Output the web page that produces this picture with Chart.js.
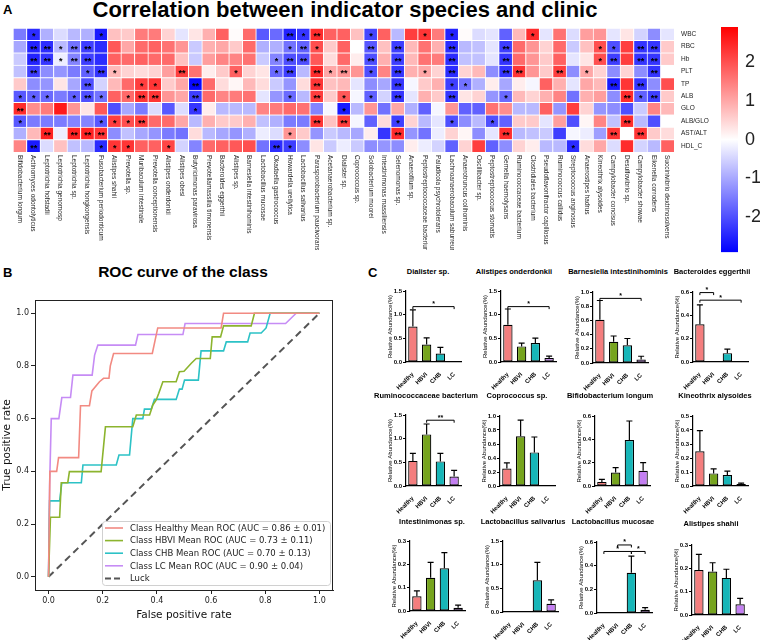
<!DOCTYPE html>
<html>
<head>
<meta charset="utf-8">
<script src="https://cdn.jsdelivr.net/npm/chart.js@4.4.1/dist/chart.umd.min.js"></script>
<style>
  html, body { margin: 0; padding: 0; background: #fff; }
  #page { position: relative; width: 760px; height: 640px; overflow: hidden; font-family: Arial, "Liberation Sans", sans-serif; color: #000; }
  #page canvas { position: absolute; }
  .txt { position: absolute; white-space: nowrap; line-height: 1; transform: translate(-50%, -50%); }
  .panel { position: absolute; font-weight: bold; font-size: 13px; line-height: 1; }
</style>
</head>
<body>
<div id="page">
  <div class="panel" style="left:3px;top:3px">A</div>
  <div class="txt" style="left:345px;top:10px;font-size:22px;font-weight:bold">Correlation between indicator species and clinic</div>
  <canvas id="heat" width="720" height="250" style="left:0;top:0"></canvas>
  <canvas id="cbar" width="60" height="270" style="left:700px;top:0"></canvas>
  <div class="panel" style="left:3px;top:266px">B</div>
  <div class="txt" style="left:183px;top:272px;font-size:15.5px;font-weight:bold">ROC curve of the class</div>
  <canvas id="roc" width="340" height="340" style="left:0;top:290px"></canvas>
  <div class="panel" style="left:368px;top:266px">C</div>
</div>
<script>
// ---------- Panel A data ----------
const species = [
  'Bifidobacterium longum', 'Actinomyces odontolyticus', 'Leptotrichia hofstadii', 'Leptotrichia genomosp',
  'Leptotrichia sp.', 'Leptotrichia hongkongensis', 'Fusobacterium periodonticum', 'Alistipes shahii',
  'Prevotella sp.', 'Muribaculum intestinale', 'Prevotella conceptionensis', 'Alistipes onderdonkii',
  'Alistipes obesi', 'Butyricimonas paravirosa', 'Prevotellamassilia timonensis', 'Bacteroides eggerthii',
  'Alistipes sp.', 'Barnesiella intestinihominis', 'Lactobacillus mucosae', 'Okadaella gastrococcus',
  'Howardella ureilytica', 'Lactobacillus salivarius', 'Parasporobacterium paucivorans', 'Acetanaerobacterium sp.',
  'Dialister sp.', 'Coprococcus sp.', 'Solobacterium moorei', 'Intestinimonas massiliensis',
  'Selenomonas sp.', 'Anaerofilum sp.', 'Peptostreptococcaceae bacterium', 'Paludicola psychrotolerans',
  'Lachnoanaerobaculum saburreum', 'Anaerotruncus colihominis', 'Oscillibacter sp.', 'Peptostreptococcus stomatis',
  'Gemella haemolysans', 'Ruminococcaceae bacterium', 'Clostridiales bacterium', 'Pseudoflavonifractor capillosus',
  'Ruminococcus callidus', 'Streptococcus anginosus', 'Anaerostipes hadrus', 'Kineothrix alysoides',
  'Campylobacter concisus', 'Desulfovibrio sp.', 'Campylobacter showae', 'Eikenella corrodens',
  'Succinivibrio dextrinosolvens'
];
const clinic = ['WBC', 'RBC', 'Hb', 'PLT', 'TP', 'ALB', 'GLO', 'ALB/GLO', 'AST/ALT', 'HDL_C'];

const rWBC = [-1.5,-2.4,-0.9,-0.4,-0.8,-0.9,-2.6,0.7,0.6,1.5,1.5,0.5,-0.3,0.3,0.9,1.8,0.05,1.7,
  -1.9,-1.7,-2.5,-2.3,2.4,1.8,1.8,0.7,-2.1,1.8,-0.8,2.2,2.3,1.5,-2.5,0.05,-0.4,-0.3,-1.8,
  0.8,2.4,-0.3,1.6,-0.4,1.1,1.2,-0.3,0.3,-0.5,-1.3,-0.3];
const rRBC = [-1.0,-2.5,-2.4,-0.8,-1.6,-2.2,-2.4,1.9,1.0,1.7,1.8,1.6,1.2,-0.6,0.9,1.0,0.6,1.7,
  -0.9,-0.9,-1.6,-1.8,2.0,0.6,1.8,0.0,-1.9,0.7,-2.2,0.8,1.6,0.9,-2.4,-0.8,-0.7,-0.3,-2.2,
  1.7,1.2,0.5,1.7,-0.6,0.7,2.0,-2.0,2.2,-2.3,-2.3,0.6];
const rHb = [-0.6,-2.5,-2.3,-0.2,-1.4,-2.2,-2.4,1.8,1.7,1.8,1.7,1.7,0.7,-0.6,1.1,1.4,1.4,1.6,
  -0.6,-1.4,-2.0,-2.0,1.9,0.4,1.7,0.2,-2.0,0.9,-2.2,0.8,1.6,1.5,-2.4,-0.7,-0.7,-0.3,-2.3,
  1.7,1.2,0.6,1.8,-0.3,0.3,2.0,-2.2,2.2,-2.3,-2.3,0.6];
const rPLT = [-0.7,-2.2,-1.3,-1.2,-1.5,-1.8,-2.3,0.8,0.5,0.4,0.5,1.1,2.2,1.6,0.2,0.6,1.8,0.5,
  0.3,-1.7,-2.2,-0.8,2.4,1.0,1.2,1.2,-2.0,1.4,-2.3,0.9,1.0,0.5,-2.4,0.5,0.8,-1.3,-2.3,
  2.3,1.2,0.6,2.2,-1.3,1.0,0.5,-1.3,0.5,-1.3,-2.3,0.0];
const rTP = [0.6,-1.3,-1.2,0.3,-1.0,-2.0,-0.5,0.8,1.7,2.2,2.3,0.6,1.0,-2.8,1.7,0.4,0.1,0.8,
  0.4,-0.6,-1.2,0.4,2.3,0.7,0.8,-0.3,-1.3,-1.0,-2.3,-0.1,0.6,0.9,-2.2,-1.6,-0.9,0.2,-1.0,
  0.2,-0.1,1.8,0.9,-0.3,1.0,0.8,-2.6,2.3,-2.3,-1.3,2.0];
const rALB = [-1.9,-1.8,-1.7,-1.5,-1.8,-2.0,-1.6,1.8,1.7,2.3,2.3,1.2,1.0,-2.2,1.7,1.4,1.5,1.6,
  -0.3,-1.2,-1.7,-0.8,2.2,0.6,1.9,-0.1,-1.8,-0.5,-2.3,-0.3,0.9,0.6,-2.3,0.3,0.5,-1.2,-1.7,
  0.8,0.5,0.9,1.4,-1.6,0.9,1.1,-1.3,2.4,-1.8,-2.2,0.6];
const rGLO = [2.4,1.3,1.5,2.6,1.2,0.3,1.9,-2.0,-1.0,-1.5,-0.4,-1.9,-0.4,-2.3,0.2,-0.8,-0.8,-0.8,
  1.4,1.5,1.7,1.6,-1.4,-0.1,-2.6,-0.8,1.2,-1.6,1.0,-0.9,-1.8,-0.1,1.2,-1.8,-1.8,1.6,1.3,
  -0.8,-0.8,1.8,-1.2,2.2,0.5,-1.2,-1.3,-2.0,-0.6,1.4,0.8];
const rALBGLO = [-1.9,-1.5,-1.5,-1.5,-1.4,-1.4,-1.9,2.2,2.0,2.2,1.7,1.7,1.0,-0.8,0.9,0.6,0.6,0.9,
  -0.7,-0.9,-1.5,-1.5,2.3,0.7,2.2,-0.1,-1.8,0.4,-2.2,0.5,-0.8,-0.3,-2.0,-1.3,-0.8,-2.0,-1.8,
  0.6,0.6,-0.3,1.1,-2.0,0.1,1.4,-0.7,2.4,-0.8,-2.0,0.0];
const rASTALT = [-0.9,0.8,2.5,-0.2,2.5,2.5,2.3,-1.3,-0.7,-1.0,-1.2,-1.5,-1.6,0.4,-0.8,-1.0,-1.2,-0.9,
  -0.2,-0.4,1.2,0.6,-1.2,-0.6,-0.8,-1.0,0.2,-2.3,2.4,-1.2,-1.6,-0.2,0.5,0.1,-1.3,-0.3,2.4,
  -0.8,-0.7,-0.6,-2.2,-0.1,-0.2,-1.1,2.3,0.0,2.3,0.6,0.4];
const rHDL = [1.4,-2.6,-0.4,0.7,-0.7,-0.8,-2.4,2.3,2.3,1.8,1.8,2.1,-0.5,-1.4,1.7,1.8,1.9,2.0,
  -1.6,-2.4,-2.2,-1.3,0.3,-0.6,-0.2,-0.6,-1.3,-1.2,-1.3,0.2,-0.2,-0.5,-1.8,0.5,2.2,-1.8,-1.3,
  0.5,0.2,-0.8,-0.8,-2.4,0.4,1.0,-0.4,2.4,-0.5,-0.8,1.8];

// significance: number of stars per cell
const sWBC    = '010000100000000000|0021200010001010000|010000000000';
const sRBC    = '022122000000000000|0012100020200020002|000000110220';
const sHb     = '022122000000000000|0122000020200020002|000000120220';
const sPLT    = '020001210000200010|0120212010201020002|200201000020';
const sTP     = '000002000110020000|0000200000200011000|000000020200';
const sALB    = '111012101220020000|0010201010200020001|000000002120';
const sGLO    = '200000000000010000|0000001000000000000|000000000000';
const sALBGLO = '100000111200000000|0000202000100010010|000000002000';
const sASTALT = '002022200000000000|0010000000200000002|000000020200';
const sHDL    = '020000111001000000|0210000000000000000|000010000000';

const heatVals = [rWBC, rRBC, rHb, rPLT, rTP, rALB, rGLO, rALBGLO, rASTALT, rHDL];
const heatStars = [sWBC, sRBC, sHb, sPLT, sTP, sALB, sGLO, sALBGLO, sASTALT, sHDL].map(s => s.replace(/\|/g, ''));
const colorTicks = [-2, -1, 0, 1, 2];
const colorRange = 2.9;

// ---------- Panel B data ----------
const rocHealthy = [[0,0],[0.005,0.40],[0.03,0.40],[0.037,0.452],[0.111,0.452],[0.118,0.649],[0.151,0.649],
  [0.16,0.705],[0.188,0.74],[0.203,0.753],[0.223,0.753],[0.228,0.80],[0.24,0.847],[0.383,0.847],
  [0.403,0.944],[0.637,0.944],[0.646,1.0],[1,1]];
const rocHBVI = [[0,0],[0.007,0.226],[0.041,0.226],[0.047,0.357],[0.071,0.357],[0.077,0.399],[0.194,0.399],
  [0.21,0.569],[0.311,0.569],[0.324,0.614],[0.373,0.614],[0.385,0.652],[0.397,0.67],[0.407,0.696],
  [0.422,0.74],[0.471,0.74],[0.483,0.778],[0.50,0.78],[0.527,0.81],[0.545,0.828],[0.597,0.828],
  [0.604,0.91],[0.635,0.91],[0.646,0.952],[0.748,0.952],[0.76,1.0],[1,1]];
const rocCHB = [[0,0],[0.004,0.288],[0.041,0.288],[0.049,0.357],[0.121,0.357],[0.127,0.424],[0.25,0.424],
  [0.26,0.462],[0.299,0.462],[0.311,0.60],[0.348,0.60],[0.354,0.636],[0.379,0.636],[0.391,0.673],
  [0.471,0.673],[0.483,0.712],[0.493,0.712],[0.502,0.746],[0.553,0.746],[0.563,0.857],[0.646,0.857],
  [0.656,0.891],[0.735,0.891],[0.744,0.925],[0.785,0.925],[0.803,0.944],[0.818,1.0],[1,1]];
const rocLC = [[0,0],[0.004,0.35],[0.01,0.60],[0.038,0.60],[0.049,0.68],[0.081,0.68],[0.09,0.765],
  [0.161,0.765],[0.17,0.841],[0.182,0.879],[0.321,0.879],[0.33,0.919],[0.496,0.919],[0.504,0.961],
  [0.875,0.961],[0.914,1.0],[1,1]];
const rocLuck = [[0,0],[1,1]];
const rocNames = ['Class Healthy Mean ROC (AUC = 0.86 \u00b1 0.01)', 'Class HBVI Mean ROC (AUC = 0.73 \u00b1 0.11)',
  'Class CHB Mean ROC (AUC = 0.70 \u00b1 0.13)', 'Class LC Mean ROC (AUC = 0.90 \u00b1 0.04)', 'Luck'];
const rocTicks = [0, 0.2, 0.4, 0.6, 0.8, 1.0];

// ---------- Panel C data ----------
const groups = ['Healthy', 'HBVI', 'CHB', 'LC'];
const cTitles = ['Dialister sp.', 'Alistipes onderdonkii', 'Barnesiella intestinihominis', 'Bacteroides eggerthii',
  'Ruminococcaceae bacterium', 'Coprococcus sp.', 'Bifidobacterium longum', 'Kineothrix alysoides',
  'Intestinimonas sp.', 'Lactobacillus salivarius', 'Lactobacillus mucosae', 'Alistipes shahii'];
const cMeans = [
  [0.75, 0.37, 0.18, 0.003], [0.785, 0.33, 0.40, 0.085], [0.61, 0.30, 0.25, 0.05], [0.323, 0.005, 0.076, 0.001],
  [0.53, 1.09, 0.52, 0.20], [0.25, 0.71, 0.48, 0.015], [0.035, 0.115, 0.394, 0.13], [0.248, 0.09, 0.078, 0.014],
  [0.063, 0.142, 0.183, 0.014], [0.008, 0.005, 0.67, 0.173], [0.003, 0.003, 0.34, 0.028], [0.193, 0.186, 0.159, 0.046]
];
const cErrTop = [
  [1.10, 0.51, 0.31, 0.005], [1.12, 0.40, 0.505, 0.126], [0.88, 0.38, 0.345, 0.095], [0.49, 0.008, 0.11, 0.001],
  [0.69, 1.31, 0.69, 0.33], [0.33, 0.94, 0.70, 0.022], [0.057, 0.158, 0.557, 0.20], [0.396, 0.123, 0.106, 0.021],
  [0.086, 0.208, 0.25, 0.025], [0.012, 0.006, 1.05, 0.256], [0.004, 0.004, 0.48, 0.045], [0.26, 0.224, 0.196, 0.071]
];
const cMax = [1.5, 1.5, 1.0, 0.6, 1.5, 1.0, 0.6, 0.5, 0.3, 1.5, 0.6, 0.3];
const cStep = [0.5, 0.5, 0.2, 0.2, 0.5, 0.2, 0.2, 0.1, 0.1, 0.5, 0.2, 0.1];
// [from group, to group, height, label]
const cSig = [
  [[0, 3, 1.17, '*']], [[0, 3, 1.17, '*']], [[0, 3, 0.91, '*']], [[0, 1, 0.595, '*'], [0, 3, 0.53, '*']],
  [[1, 3, 1.39, '**']], [], [], [],
  [], [], [[1, 2, 0.575, '*'], [0, 2, 0.52, '*'], [2, 3, 0.52, '*']], []
];

// ---------- styles / layout ----------
const groupColors = ['#f47e7e', '#76a41e', '#17b6b8', '#c47ff2'];
const rocColors = ['#f28a82', '#8cb42e', '#2cc2c6', '#c68cf5', '#555555'];
const cAxisX = [406, 501, 593, 693, 406, 500, 595, 693, 410, 503, 597, 692];
const cTopY  = [291, 291, 292, 292, 415, 416, 416, 416, 541, 541, 542, 545];
const cZeroY = [362, 362, 363, 362, 486, 486, 486, 486, 611, 612, 613, 615];
const cTitleX = [428, 514, 618, 712, 426, 517, 610, 715, 432, 523, 613, 711];
const cTitleY = [272, 272, 272, 272, 396, 396, 396, 396, 522, 522, 522, 524];

Chart.defaults.font.family = 'Arial, "Liberation Sans", sans-serif';
Chart.defaults.color = '#000';
Chart.defaults.animation = false;
Chart.defaults.events = [];

function heatColor(v) {
  const t = Math.max(-1, Math.min(1, v / colorRange));
  const k = Math.round(255 * (1 - Math.abs(t)));
  return t >= 0 ? `rgb(255,${k},${k})` : `rgb(${k},${k},255)`;
}

// ---------- Heatmap ----------
const heatText = {
  id: 'heatText',
  afterDatasetsDraw(chart) {
    const { ctx, chartArea, scales } = chart;
    ctx.save();
    ctx.fillStyle = '#000';
    ctx.font = 'bold 9px Arial';
    ctx.textAlign = 'center';
    ctx.textBaseline = 'middle';
    chart.data.datasets.forEach((ds, d) => {
      chart.getDatasetMeta(d).data.forEach((bar, i) => {
        const n = +ds.stars[i];
        if (n) ctx.fillText('*'.repeat(n), bar.x + 0.5, (bar.y + bar.base) / 2 + 2.5);
      });
    });
    ctx.fillStyle = '#222';
    ctx.font = '6.5px Arial';
    ctx.textAlign = 'left';
    species.forEach((s, i) => {
      ctx.save();
      ctx.translate(scales.x.getPixelForValue(i), chartArea.bottom + 3);
      ctx.rotate(Math.PI / 2);
      ctx.fillText(s, 0, 0);
      ctx.restore();
    });
    clinic.forEach((c, r) => {
      ctx.fillText(c, chartArea.right + 7, scales.y.getPixelForValue(clinic.length - 0.5 - r));
    });
    ctx.restore();
  }
};

const heatSets = [];
for (let r = clinic.length - 1; r >= 0; r--) {
  heatSets.push({
    label: clinic[r],
    data: species.map(() => 1),
    backgroundColor: heatVals[r].map(heatColor),
    borderColor: '#fff',
    borderWidth: { top: 1, left: 1, right: 0, bottom: 0 },
    borderSkipped: false,
    barPercentage: 1,
    categoryPercentage: 1,
    stars: heatStars[r]
  });
}

new Chart(document.getElementById('heat'), {
  type: 'bar',
  data: { labels: species, datasets: heatSets },
  options: {
    responsive: false,
    layout: { padding: { left: 13, top: 28, right: 46, bottom: 98 } },
    plugins: { legend: { display: false }, tooltip: { enabled: false } },
    scales: {
      x: { stacked: true, display: false },
      y: { stacked: true, display: false, min: 0, max: clinic.length }
    }
  },
  plugins: [heatText]
});

// colour bar
new Chart(document.getElementById('cbar'), {
  type: 'bar',
  data: {
    labels: [''],
    datasets: [{
      data: [[-colorRange, colorRange]],
      barPercentage: 1,
      categoryPercentage: 1,
      backgroundColor(c) {
        const a = c.chart.chartArea;
        if (!a) return '#fff';
        const g = c.chart.ctx.createLinearGradient(0, a.bottom, 0, a.top);
        g.addColorStop(0, '#0000ff');
        g.addColorStop(0.5, '#ffffff');
        g.addColorStop(1, '#ff0000');
        return g;
      }
    }]
  },
  options: {
    responsive: false,
    layout: { padding: { left: 21, top: 27, right: 0, bottom: 12 } },
    plugins: { legend: { display: false }, tooltip: { enabled: false } },
    scales: {
      x: { display: false },
      y: {
        position: 'right',
        min: -colorRange, max: colorRange,
        afterBuildTicks: ax => { ax.ticks = colorTicks.map(v => ({ value: v })); },
        afterFit: s => { s.width = 22; },
        grid: { display: false, drawTicks: false },
        border: { display: false },
        ticks: { font: { size: 18 }, color: '#222', padding: 7 }
      }
    }
  }
});

// ---------- ROC ----------
const rocFrame = {
  id: 'rocFrame',
  afterDraw(chart) {
    const { ctx, chartArea: a } = chart;
    ctx.save();
    ctx.strokeStyle = '#222';
    ctx.lineWidth = 1;
    ctx.strokeRect(a.left + 0.5, a.top + 0.5, a.right - a.left - 1, a.bottom - a.top);
    // legend box
    const lx = 102, ly = 231, lw = 228, lh = 64;
    ctx.fillStyle = 'rgba(255,255,255,0.85)';
    ctx.strokeStyle = '#d0d0d0';
    ctx.beginPath();
    ctx.roundRect(lx + 0.5, ly + 0.5, lw, lh, 3);
    ctx.fill();
    ctx.stroke();
    ctx.font = '8.5px "DejaVu Sans"';
    ctx.textAlign = 'left';
    ctx.textBaseline = 'middle';
    rocNames.forEach((name, i) => {
      const y = ly + 7 + i * 12.6;
      ctx.strokeStyle = rocColors[i];
      ctx.lineWidth = i === 4 ? 2 : 1.6;
      ctx.setLineDash(i === 4 ? [6, 3] : []);
      ctx.beginPath();
      ctx.moveTo(lx + 3, y);
      ctx.lineTo(lx + 21, y);
      ctx.stroke();
      ctx.fillStyle = '#222';
      ctx.fillText(name, lx + 28, y + 0.5);
    });
    ctx.restore();
  }
};

const rocSeries = [rocHealthy, rocHBVI, rocCHB, rocLC, rocLuck];
const rocAxis = (title, isX) => ({
  type: 'linear',
  min: -0.05, max: 1.05,
  afterBuildTicks: ax => { ax.ticks = rocTicks.map(v => ({ value: v })); },
  afterFit: s => { if (isX) s.height = 40; else s.width = 35; },
  grid: { drawOnChartArea: false, drawTicks: true, tickLength: 4, color: '#222' },
  border: { color: '#222', width: 1 },
  ticks: { callback: v => v.toFixed(1), font: { family: '"DejaVu Sans"', size: 8 }, color: '#222', padding: 2, maxRotation: 0 },
  title: { display: true, text: title, font: { family: '"DejaVu Sans"', size: 10.5 }, color: '#111',
    padding: isX ? { top: 0, bottom: 8 } : { top: 1, bottom: 0 } }
});

new Chart(document.getElementById('roc'), {
  type: 'scatter',
  data: {
    datasets: rocSeries.map((pts, i) => ({
      label: rocNames[i],
      data: pts.map(p => ({ x: p[0], y: p[1] })),
      showLine: true,
      pointRadius: 0,
      borderColor: rocColors[i],
      borderWidth: i === 4 ? 2 : 1.6,
      borderDash: i === 4 ? [7, 4.5] : [],
      tension: 0
    }))
  },
  options: {
    responsive: false,
    layout: { padding: { left: 0, top: 10, right: 7, bottom: 0 } },
    plugins: { legend: { display: false }, tooltip: { enabled: false } },
    scales: { x: rocAxis('False positive rate', true), y: rocAxis('True positive rate', false) }
  },
  plugins: [rocFrame]
});

// ---------- Panel C ----------
const barExtras = {
  id: 'barExtras',
  afterDatasetsDraw(chart) {
    const { ctx, scales: { x, y } } = chart;
    const ds = chart.data.datasets[0];
    ctx.save();
    ctx.strokeStyle = '#000';
    ctx.lineWidth = 1.2;
    chart.getDatasetMeta(0).data.forEach((bar, i) => {
      const top = y.getPixelForValue(ds.errTop[i]);
      if (bar.y - top < 0.8) return;
      ctx.beginPath();
      ctx.moveTo(bar.x, bar.y);
      ctx.lineTo(bar.x, top);
      ctx.moveTo(bar.x - 3, top);
      ctx.lineTo(bar.x + 3, top);
      ctx.stroke();
    });
    ctx.lineWidth = 1;
    ctx.fillStyle = '#000';
    ctx.font = 'bold 7px Arial';
    ctx.textAlign = 'center';
    ctx.textBaseline = 'bottom';
    ds.sig.forEach(([a, b, v, label]) => {
      const xa = x.getPixelForValue(a), xb = x.getPixelForValue(b), yy = y.getPixelForValue(v);
      ctx.beginPath();
      ctx.moveTo(xa, yy + 2.5);
      ctx.lineTo(xa, yy);
      ctx.lineTo(xb, yy);
      ctx.lineTo(xb, yy + 2.5);
      ctx.stroke();
      ctx.fillText(label, (xa + xb) / 2, yy + 1);
    });
    ctx.restore();
  }
};

const page = document.getElementById('page');
cTitles.forEach((title, k) => {
  const t = document.createElement('div');
  t.className = 'txt';
  t.style.cssText = `left:${cTitleX[k]}px;top:${cTitleY[k]}px;font-size:7.5px;font-weight:bold`;
  t.textContent = title;
  page.appendChild(t);

  const padTop = 6, axisW = 19, plotW = 55, xAxisH = 30;
  const cv = document.createElement('canvas');
  cv.width = axisW + plotW + 6;
  cv.height = padTop + (cZeroY[k] - cTopY[k]) + xAxisH;
  cv.style.left = (cAxisX[k] - axisW) + 'px';
  cv.style.top = (cTopY[k] - padTop) + 'px';
  page.appendChild(cv);

  new Chart(cv, {
    type: 'bar',
    data: {
      labels: groups,
      datasets: [{
        data: cMeans[k],
        backgroundColor: groupColors,
        borderColor: '#000',
        borderWidth: 1.2,
        borderSkipped: false,
        barPercentage: 0.68,
        categoryPercentage: 1,
        errTop: cErrTop[k],
        sig: cSig[k]
      }]
    },
    options: {
      responsive: false,
      layout: { padding: { left: 0, top: padTop, right: 6, bottom: 0 } },
      plugins: { legend: { display: false }, tooltip: { enabled: false } },
      scales: {
        x: {
          grid: { display: false },
          border: { color: '#000', width: 1.2 },
          afterFit: s => { s.height = xAxisH; },
          ticks: { autoSkip: false, minRotation: 45, maxRotation: 45, padding: 1, font: { size: 6, weight: 'bold' } }
        },
        y: {
          min: 0, max: cMax[k],
          afterFit: s => { s.width = axisW; },
          grid: { drawOnChartArea: false, drawTicks: true, tickLength: 3, color: '#000' },
          border: { color: '#000', width: 1.2 },
          ticks: { stepSize: cStep[k], callback: v => v.toFixed(1), padding: 1, font: { size: 6, weight: 'bold' } },
          title: { display: true, text: 'Relative Abundance(%)', font: { size: 6 }, padding: { top: 0, bottom: 0 } }
        }
      }
    },
    plugins: [barExtras]
  });
});
</script>
</body>
</html>
